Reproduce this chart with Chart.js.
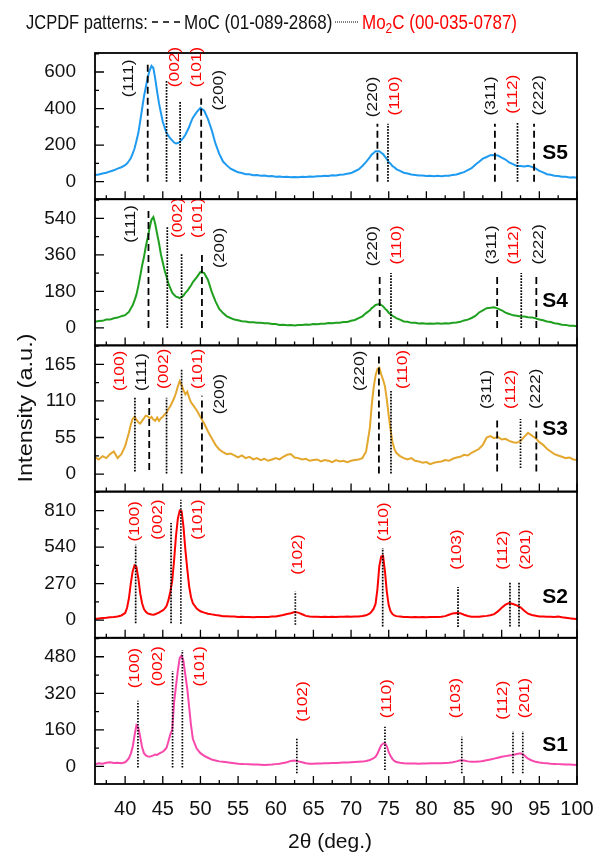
<!DOCTYPE html>
<html>
<head>
<meta charset="utf-8">
<script src="https://cdn.jsdelivr.net/npm/chart.js@4.4.1/dist/chart.umd.min.js"></script>
<style>
  html, body { margin: 0; background: #fff; }
  canvas { display: block; }
</style>
</head>
<body>
<canvas id="xrd" width="593" height="852"></canvas>
<script>
// 2theta grid shared by all patterns (denser around the sharp peaks)
const twoTheta = [
  36, 36.5, 37, 37.5, 38, 38.5, 39, 39.5,
  40, 40.25, 40.5, 40.75, 41, 41.25, 41.5, 41.75,
  42, 42.25, 42.5, 42.75, 43, 43.25, 43.5, 43.75,
  44, 44.25, 44.5, 44.75, 45, 45.25, 45.5, 45.75,
  46, 46.25, 46.5, 46.75, 47, 47.25, 47.5, 47.75,
  48, 48.25, 48.5, 48.75,
  49, 49.5, 50, 50.5, 51, 51.5, 52, 52.5, 53, 53.5,
  54, 54.5, 55, 55.5, 56, 56.5, 57, 57.5, 58, 58.5,
  59, 59.5, 60, 60.5, 61, 61.5, 62, 62.5, 63, 63.5,
  64, 64.5, 65, 65.5, 66, 66.5, 67, 67.5, 68, 68.5,
  69, 69.5, 70, 70.5, 71, 71.5, 72,
  72.5, 72.75, 73, 73.25, 73.5, 73.75, 74, 74.25, 74.5, 74.75, 75, 75.25, 75.5, 75.75,
  76, 76.5, 77, 77.5, 78, 78.5, 79, 79.5, 80, 80.5,
  81, 81.5, 82, 82.5, 83, 83.5, 84, 84.5, 85, 85.5,
  86, 86.5, 87, 87.5, 88, 88.5, 89, 89.5, 90, 90.5,
  91, 91.5, 92, 92.5, 93, 93.5, 94, 94.5, 95, 95.5,
  96, 96.5, 97, 97.5, 98, 98.5, 99, 99.5, 100
];

const s5 = [
  36, 39, 45, 49, 56, 62, 71, 79,
  90, 99, 113, 128, 153, 181, 222, 266,
  330, 398, 466, 518, 570, 608, 634, 622,
  562, 492, 428, 377, 328, 296, 266, 251,
  236, 226, 214, 209, 211, 217, 229, 241,
  257, 277, 299, 327,
  350, 380, 404, 388, 342, 282, 208, 152, 110, 89,
  71, 61, 51, 47, 41, 40, 35, 36, 32, 33,
  29, 31, 27, 28, 26, 27, 24, 26, 24, 27,
  26, 28, 27, 29, 29, 32, 31, 35, 34, 38,
  39, 43, 47, 57, 67, 86, 108,
  134, 149, 157, 167, 167, 166, 158, 151, 137, 123, 107, 98, 85, 79,
  69, 59, 49, 45, 39, 37, 34, 34, 31, 32,
  29, 32, 29, 32, 32, 37, 39, 46, 52, 63,
  74, 93, 109, 126, 135, 145, 146, 143, 131, 121,
  105, 96, 86, 85, 83, 87, 81, 73, 59, 51,
  41, 38, 32, 31, 27, 27, 23, 24, 21
];

const s4 = [
  30, 34, 35, 41, 41, 48, 51, 58,
  63, 71, 79, 96, 111, 136, 164, 206,
  254, 306, 349, 402, 444, 492, 533, 546,
  512, 463, 417, 363, 322, 283, 252, 218,
  196, 174, 163, 154, 151, 147, 153, 159,
  173, 182, 196, 209,
  226, 249, 276, 270, 236, 178, 131, 94, 73, 57,
  49, 41, 38, 33, 32, 28, 28, 25, 26, 23,
  23, 19, 19, 15, 16, 13, 14, 12, 15, 14,
  17, 16, 19, 18, 21, 21, 24, 23, 26, 26,
  29, 29, 35, 39, 48, 57, 73,
  87, 98, 104, 113, 115, 119, 113, 107, 95, 87, 75, 68, 59, 55,
  48, 41, 32, 30, 25, 25, 22, 23, 21, 22,
  21, 23, 21, 23, 22, 25, 27, 30, 37, 41,
  49, 59, 76, 87, 97, 99, 102, 95, 87, 75,
  69, 62, 60, 56, 56, 53, 52, 48, 41, 38,
  32, 29, 23, 21, 16, 15, 11, 11, 8
];

const s3 = [
  25, 22, 27, 24, 30, 34, 24, 30,
  42, 52, 62, 74, 83, 86, 82, 78,
  76, 80, 84, 88, 87, 84, 86, 82,
  80, 85, 80, 84, 86, 90, 92, 98,
  102, 108, 114, 122, 132, 140, 134, 126,
  120, 124, 115, 108,
  104, 96, 86, 76, 64, 54, 44, 37, 33, 30,
  31, 28, 25, 28, 24, 26, 22, 24, 21, 23,
  20, 22, 24, 22, 26, 29, 30, 25, 24, 22,
  23, 20, 21, 22, 19, 21, 20, 18, 21, 19,
  20, 18, 20, 21, 22, 24, 34,
  70, 105, 130, 148, 158, 160, 150, 142, 132, 112, 88, 66, 48, 38,
  32, 27, 24, 22, 24, 20, 19, 17, 18, 15,
  17, 18, 19, 21, 20, 23, 25, 26, 29, 28,
  32, 35, 38, 44, 55, 57, 54, 56, 52, 53,
  50, 48, 47, 50, 56, 62, 58, 54, 48, 44,
  38, 34, 30, 28, 26, 24, 25, 22, 21
];

const s2 = [
  8, 12, 16, 18, 21, 24, 28, 35,
  52, 90, 160, 270, 360, 405, 395, 310,
  200, 125, 82, 62, 50, 46, 42, 41,
  44, 51, 56, 65, 72, 85, 105, 148,
  210, 290, 440, 620, 750, 810, 805, 690,
  520, 380, 250, 170,
  125, 86, 66, 56, 48, 43, 38, 35, 30, 29,
  27, 27, 24, 25, 23, 24, 22, 23, 23, 24,
  24, 27, 28, 33, 38, 46, 52, 60, 56, 44,
  32, 28, 26, 26, 24, 25, 23, 25, 24, 26,
  25, 27, 26, 28, 28, 31, 36,
  50, 65, 85, 120, 230, 400, 470, 475, 360, 210, 110, 65, 45, 35,
  30, 27, 24, 24, 22, 23, 22, 23, 22, 23,
  23, 24, 25, 30, 40, 50, 54, 52, 40, 31,
  26, 26, 26, 29, 32, 37, 45, 65, 92, 115,
  126, 120, 110, 95, 70, 48, 38, 33, 28, 27,
  25, 26, 24, 27, 22, 18, 14, 11, 8
];

const s1 = [
  9, 14, 12, 16, 18, 15, 16, 14,
  18, 26, 36, 55, 85, 135, 180, 170,
  130, 85, 58, 48, 44, 42, 45, 48,
  52, 50, 56, 60, 64, 72, 82, 110,
  140, 160, 280, 350, 420, 475, 485, 460,
  400, 340, 260, 180,
  120, 78, 58, 46, 38, 30, 26, 22, 20, 18,
  16, 14, 12, 11, 10, 9, 8, 8, 7, 6,
  7, 8, 10, 12, 15, 18, 24, 26, 22, 18,
  14, 12, 12, 13, 13, 14, 14, 15, 15, 16,
  17, 17, 18, 19, 20, 21, 24,
  28, 32, 36, 42, 55, 75, 92, 100, 102, 88, 62, 45, 32, 24,
  19, 16, 14, 13, 13, 13, 12, 13, 13, 14,
  14, 14, 14, 15, 16, 18, 22, 27, 26, 22,
  20, 20, 21, 24, 27, 30, 34, 38, 42, 45,
  48, 50, 54, 57, 48, 34, 26, 20, 17, 15,
  14, 12, 11, 10, 9, 8, 8, 7, 6
];

// tick labels
const xTicks = [40, 45, 50, 55, 60, 65, 70, 75, 80, 85, 90, 95, 100];
const s5Ticks = [0, 200, 400, 600];
const s4Ticks = [0, 180, 360, 540];
const s3Ticks = [0, 55, 110, 165];
const s2Ticks = [0, 270, 540, 810];
const s1Ticks = [0, 160, 320, 480];

// reference reflections: [hkl, phase, 2theta, line top, line bottom]
const s5Peaks = [
  ['(111)', 'MoC', 43.0, 657, 0], ['(002)', 'Mo2C', 45.5, 556, 0], ['(101)', 'Mo2C', 47.3, 436, 0],
  ['(200)', 'MoC', 50.1, 455, 0], ['(220)', 'MoC', 73.5, 317, 0], ['(110)', 'Mo2C', 74.9, 317, 0],
  ['(311)', 'MoC', 89.1, 317, 0], ['(112)', 'Mo2C', 92.1, 325, 0], ['(222)', 'MoC', 94.3, 317, 0]
];
const s4Peaks = [
  ['(111)', 'MoC', 43.1, 588, 0], ['(002)', 'Mo2C', 45.6, 501, 0], ['(101)', 'Mo2C', 47.5, 369, 0],
  ['(200)', 'MoC', 50.2, 369, 0], ['(220)', 'MoC', 73.8, 271, 0], ['(110)', 'Mo2C', 75.3, 271, 0],
  ['(311)', 'MoC', 89.4, 271, 0], ['(112)', 'Mo2C', 92.6, 271, 0], ['(222)', 'MoC', 94.6, 271, 0]
];
const s3Peaks = [
  ['(100)', 'Mo2C', 41.3, 115, 4], ['(111)', 'MoC', 43.2, 115, 6], ['(002)', 'Mo2C', 45.5, 115, 1],
  ['(101)', 'Mo2C', 47.5, 157, 1], ['(200)', 'MoC', 50.2, 118, 1], ['(220)', 'MoC', 73.7, 177, 1],
  ['(110)', 'Mo2C', 75.3, 125, 1], ['(311)', 'MoC', 89.4, 83, 4], ['(112)', 'Mo2C', 92.5, 83, 9],
  ['(222)', 'MoC', 94.6, 83, 4]
];
const s2Peaks = [
  ['(100)', 'Mo2C', 41.4, 558, -22], ['(002)', 'Mo2C', 46.1, 718, -22], ['(101)', 'Mo2C', 47.4, 890, -27],
  ['(102)', 'Mo2C', 62.6, 212, -34], ['(110)', 'Mo2C', 74.2, 533, -46], ['(103)', 'Mo2C', 84.2, 245, -50],
  ['(112)', 'Mo2C', 91.1, 286, -46], ['(201)', 'Mo2C', 92.3, 286, -46]
];
const s1Peaks = [
  ['(100)', 'Mo2C', 41.7, 287, -5], ['(002)', 'Mo2C', 46.3, 418, -5], ['(101)', 'Mo2C', 47.6, 510, -5],
  ['(102)', 'Mo2C', 62.8, 123, -30], ['(110)', 'Mo2C', 74.5, 174, -16], ['(103)', 'Mo2C', 84.7, 130, -30],
  ['(112)', 'Mo2C', 91.5, 155, -30], ['(201)', 'Mo2C', 92.8, 155, -30]
];

// where each hkl label sits: [2theta of label centre, intensity at label foot]
const s5LabelAt = [[40.55, 462], [46.6, 517], [49.5, 517], [52.4, 390], [72.95, 353], [75.8, 362], [88.5, 362], [91.5, 372], [94.9, 362]];
const s4LabelAt = [[40.74, 419], [47.06, 443], [49.7, 443], [52.6, 295], [72.87, 304], [76.06, 312], [88.7, 312], [91.6, 312], [95.0, 312]];
const s3LabelAt = [[39.3, 125], [42.2, 125], [45.1, 128], [49.7, 128], [52.6, 90], [71.2, 125], [76.85, 128], [88.0, 98], [91.2, 98], [94.6, 98]];
const s2LabelAt = [[41.3, 582], [44.4, 595], [49.7, 595], [63.0, 336], [74.3, 582], [84.0, 373], [90.2, 373], [93.2, 373]];
const s1LabelAt = [[41.3, 342], [44.4, 350], [49.9, 350], [63.6, 196], [74.7, 211], [83.9, 211], [90.1, 204], [93.1, 211]];

// bottom panel first: the last stacked scale ends up on top
const panels = [
  { id: 'y1', name: 'S1', data: s1, color: '#f848ac', min: -77, max: 563, ticks: s1Ticks, peaks: s1Peaks, labelAt: s1LabelAt, nameAt: 94 },
  { id: 'y2', name: 'S2', data: s2, color: '#ff0000', min: -130, max: 950, ticks: s2Ticks, peaks: s2Peaks, labelAt: s2LabelAt, nameAt: 173 },
  { id: 'y3', name: 'S3', data: s3, color: '#e4a72e', min: -26.4, max: 193.6, ticks: s3Ticks, peaks: s3Peaks, labelAt: s3LabelAt, nameAt: 67 },
  { id: 'y4', name: 'S4', data: s4, color: '#1fa01f', min: -86, max: 634, ticks: s4Ticks, peaks: s4Peaks, labelAt: s4LabelAt, nameAt: 131 },
  { id: 'y5', name: 'S5', data: s5, color: '#1e9bf0', min: -96, max: 704, ticks: s5Ticks, peaks: s5Peaks, labelAt: s5LabelAt, nameAt: 158 }
];

const FONT = '"Liberation Sans", Arial, sans-serif';
Chart.defaults.font.family = FONT;
Chart.defaults.color = '#111';

const datasets = [];
const scales = {
  x: {
    type: 'linear', min: 36, max: 100,
    grid: { display: false }, border: { display: false },
    ticks: { font: { size: 20 }, color: '#111', padding: 5, maxRotation: 0, autoSkip: false },
    afterBuildTicks: s => { s.ticks = xTicks.map(v => ({ value: v })); },
    afterFit: s => { s.height = 68; s.paddingLeft = 0; s.paddingRight = 0; }
  }
};

panels.forEach(p => {
  datasets.push({
    data: twoTheta.map((x, i) => ({ x: x, y: p.data[i] })),
    yAxisID: p.id, borderColor: p.color, borderWidth: 2,
    pointRadius: 0, tension: 0, order: 2
  });
  p.peaks.forEach(k => {
    datasets.push({
      data: [{ x: k[2], y: k[4] }, { x: k[2], y: k[3] }],
      yAxisID: p.id, borderColor: '#000',
      borderWidth: k[1] === 'MoC' ? 1.8 : 1.7,
      borderDash: k[1] === 'MoC' ? [7, 4] : [1.6, 1.4],
      pointRadius: 0, order: 1
    });
  });
  scales[p.id] = {
    type: 'linear', position: 'left', stack: 'xrd', stackWeight: 1,
    min: p.min, max: p.max,
    grid: { display: false }, border: { display: false },
    ticks: { font: { size: 19 }, color: '#111', padding: 11 },
    afterBuildTicks: s => { s.ticks = p.ticks.map(v => ({ value: v })); },
    afterFit: s => { s.width = 95; s.paddingTop = 0; s.paddingBottom = 0; }
  };
});

const decor = {
  id: 'decor',
  afterDraw(chart) {
    const c = chart.ctx, xs = chart.scales.x;
    const L = xs.left, R = xs.right;
    c.save();
    panels.forEach(p => {
      const ys = chart.scales[p.id];
      const top = ys.top, bot = ys.bottom;
      c.setLineDash([]);
      c.strokeStyle = '#000';
      c.lineWidth = 1.3;
      c.beginPath();
      xTicks.forEach(v => {
        const x = xs.getPixelForValue(v);
        c.moveTo(x, bot); c.lineTo(x, bot - 8);
        const xm = xs.getPixelForValue(v - 2.5);
        c.moveTo(xm, bot); c.lineTo(xm, bot - 4);
      });
      const step = p.ticks[1] - p.ticks[0];
      p.ticks.forEach(v => {
        const y = ys.getPixelForValue(v);
        c.moveTo(L, y); c.lineTo(L + 9, y);
        const ym = ys.getPixelForValue(v + step / 2);
        c.moveTo(L, ym); c.lineTo(L + 4, ym);
      });
      c.stroke();
      c.lineWidth = 1.8;
      c.strokeRect(L, top, R - L, bot - top);

      // hkl labels
      c.font = '15px ' + FONT;
      c.textAlign = 'left';
      c.textBaseline = 'middle';
      p.peaks.forEach((k, i) => {
        const at = p.labelAt[i];
        c.save();
        c.translate(xs.getPixelForValue(at[0]), ys.getPixelForValue(at[1]));
        c.rotate(-Math.PI / 2);
        c.scale(1.15, 1);
        c.fillStyle = k[1] === 'MoC' ? '#111' : '#ff0000';
        c.fillText(k[0], 0, 0);
        c.restore();
      });

      // sample name
      c.font = 'bold 21px ' + FONT;
      c.fillStyle = '#000';
      c.fillText(p.name, xs.getPixelForValue(95.4), ys.getPixelForValue(p.nameAt));
    });

    // axis titles
    c.fillStyle = '#111';
    c.textAlign = 'center';
    c.textBaseline = 'middle';
    c.font = '21px ' + FONT;
    c.fillText('2θ (deg.)', 330, 842);
    c.save();
    c.translate(26, 408);
    c.rotate(-Math.PI / 2);
    c.scale(1.12, 1);
    c.fillText('Intensity (a.u.)', 0, 0);
    c.restore();

    // pattern legend on top
    const txt = (t, x, size, color, dy) => {
      c.save();
      c.translate(x, 29 + (dy || 0));
      c.scale(1, 1.17);
      c.font = size + 'px ' + FONT;
      c.fillStyle = color;
      c.textAlign = 'left';
      c.textBaseline = 'alphabetic';
      c.fillText(t, 0, 0);
      const w = c.measureText(t).width;
      c.restore();
      return x + w;
    };
    txt('JCPDF patterns:', 26, 16.5, '#111');
    c.strokeStyle = '#000';
    c.lineWidth = 1.5;
    c.setLineDash([6, 5]);
    c.beginPath(); c.moveTo(152, 22); c.lineTo(181, 22); c.stroke();
    txt('MoC (01-089-2868)', 184, 17, '#111');
    c.lineWidth = 1.1;
    c.setLineDash([1, 1]);
    c.beginPath(); c.moveTo(335, 22); c.lineTo(358, 22); c.stroke();
    let x = txt('Mo', 362, 17, '#ff0000');
    x = txt('2', x, 12, '#ff0000', 4);
    txt('C (00-035-0787)', x, 17, '#ff0000');
    c.restore();
  }
};

new Chart(document.getElementById('xrd').getContext('2d'), {
  type: 'line',
  data: { datasets: datasets },
  options: {
    responsive: false,
    animation: false,
    layout: { padding: { left: 0, top: 53, right: 16, bottom: 0 } },
    scales: scales,
    plugins: { legend: { display: false }, tooltip: { enabled: false } }
  },
  plugins: [decor]
});
</script>
</body>
</html>
